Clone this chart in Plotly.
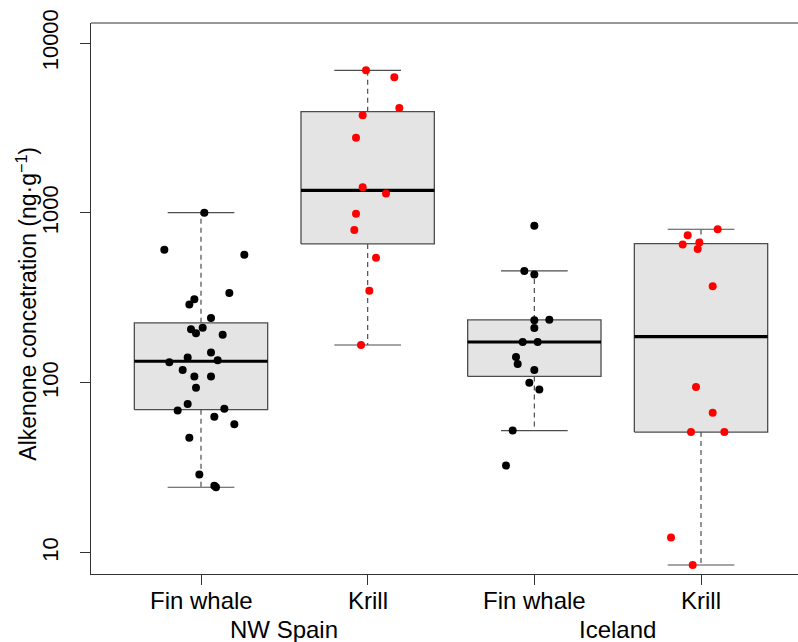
import numpy as np
import plotly.graph_objects as go

# Category labels along the x axis and the region under each pair
species = ["Fin whale", "Krill", "Fin whale", "Krill"]
regions = ["NW Spain", "Iceland"]

# Alkenone concentrations (ng/g) per sample
fin_spain = [1004, 608, 568, 338, 311, 289, 241, 207, 196, 211, 192, 151, 141, 132,
             136, 119, 109, 109, 93.5, 75.2, 68.7, 70.3, 63.1, 57.1, 47.5, 28.9, 24.8, 24.3]
krill_spain = [6908, 6285, 4150, 3755, 2775, 1416, 1300, 990, 795, 544, 349, 167]
fin_iceland = [842, 456, 434, 234, 235, 210, 174, 174, 142, 129, 119, 100, 91.4, 52.4, 32.6]
krill_iceland = [802, 739, 651, 669, 614, 370, 94.4, 66.6, 51.3, 51.3, 12.3, 8.47]

# Horizontal jitter of each sample (in category units)
fin_spain_jitter = [0.02, -0.22, 0.26, 0.17, -0.04, -0.07, 0.06, -0.06, -0.03, 0.01, 0.13, 0.06,
                    -0.08, -0.19, 0.10, -0.11, -0.04, 0.06, -0.03, -0.08, -0.14, 0.14, 0.08, 0.20,
                    -0.07, -0.01, 0.08, 0.09]
krill_spain_jitter = [-0.01, 0.16, 0.19, -0.03, -0.07, -0.03, 0.11, -0.07, -0.08, 0.05, 0.01, -0.04]
fin_iceland_jitter = [0.00, -0.06, 0.00, 0.00, 0.09, 0.00, -0.07, 0.02, -0.11, -0.10, 0.00, -0.03,
                      0.03, -0.13, -0.17]
krill_iceland_jitter = [0.10, -0.08, -0.11, -0.01, -0.02, 0.07, -0.03, 0.07, -0.06, 0.14, -0.18, -0.05]

series = [fin_spain, krill_spain, fin_iceland, krill_iceland]
jitters = [fin_spain_jitter, krill_spain_jitter, fin_iceland_jitter, krill_iceland_jitter]
point_colors = ["#000000", "#ff0000", "#000000", "#ff0000"]


def fivenum(x):
    x = np.sort(np.asarray(x, dtype=float))
    n = len(x)
    n4 = np.floor((n + 3) / 2) / 2
    d = np.array([1, n4, (n + 1) / 2, n + 1 - n4, n]) - 1
    return 0.5 * (x[np.floor(d).astype(int)] + x[np.ceil(d).astype(int)])


def box_stats(vals):
    """Tukey box statistics computed on log10 values."""
    lv = np.log10(np.asarray(vals, dtype=float))
    s = fivenum(lv)
    iqr = s[3] - s[1]
    lo = lv[lv >= s[1] - 1.5 * iqr].min()
    hi = lv[lv <= s[3] + 1.5 * iqr].max()
    return [10 ** v for v in (lo, s[1], s[2], s[3], hi)]


BOX_HALF = 0.4
CAP_HALF = 0.2
EDGE = "#4d4d4d"

fig = go.Figure()

for k, (vals, jit, col) in enumerate(zip(series, jitters, point_colors), start=1):
    lo, q1, med, q3, hi = box_stats(vals)
    # whiskers (dashed)
    fig.add_trace(go.Scatter(
        x=[k, k, None, k, k], y=[q3, hi, None, q1, lo], mode="lines",
        line=dict(color=EDGE, width=1.2, dash="5px,4px"), hoverinfo="skip"))
    # whisker caps
    fig.add_trace(go.Scatter(
        x=[k - CAP_HALF, k + CAP_HALF, None, k - CAP_HALF, k + CAP_HALF],
        y=[hi, hi, None, lo, lo], mode="lines",
        line=dict(color=EDGE, width=1.2), hoverinfo="skip"))
    # box
    fig.add_trace(go.Scatter(
        x=[k - BOX_HALF, k + BOX_HALF, k + BOX_HALF, k - BOX_HALF, k - BOX_HALF],
        y=[q1, q1, q3, q3, q1], mode="lines", fill="toself", fillcolor="#e4e4e4",
        line=dict(color=EDGE, width=1.3), hoverinfo="skip"))
    # median
    fig.add_trace(go.Scatter(
        x=[k - BOX_HALF, k + BOX_HALF], y=[med, med], mode="lines",
        line=dict(color="#000000", width=3.2), hoverinfo="skip"))
    # jittered samples
    fig.add_trace(go.Scatter(
        x=[k + j for j in jit], y=vals, mode="markers",
        marker=dict(color=col, size=8, line=dict(width=0))))

# top frame line
fig.add_shape(type="line", xref="paper", yref="paper", x0=0, x1=1, y0=1, y1=1,
              line=dict(color="#333333", width=1.2))

# species labels under the ticks
for k, name in enumerate(species, start=1):
    fig.add_annotation(x=k, y=-0.0475, xref="x", yref="paper", text=name,
                       showarrow=False, xanchor="center", yanchor="middle",
                       font=dict(size=24, color="#000000"))

# region labels centred under each pair
for i, name in enumerate(regions):
    fig.add_annotation(x=1.5 + 2 * i, y=-0.1, xref="x", yref="paper", text=name,
                       showarrow=False, xanchor="center", yanchor="middle",
                       font=dict(size=24, color="#000000"))

fig.add_annotation(x=-0.091, y=0.49, xref="paper", yref="paper",
                   text="Alkenone concetration (ng·g<sup>−1</sup>)", textangle=-90,
                   showarrow=False, xanchor="center", yanchor="middle",
                   font=dict(size=23, color="#000000"))

fig.update_layout(
    width=798, height=642,
    margin=dict(l=91, r=0, t=23, b=68),
    paper_bgcolor="white", plot_bgcolor="white",
    showlegend=False,
    font=dict(family="Liberation Sans, Arial, sans-serif", color="#000000"),
)
fig.update_xaxes(
    range=[0.34, 0.34 + 707 / 166.67], tickmode="array", tickvals=[1, 2, 3, 4],
    showticklabels=False,
    showgrid=False, zeroline=False, showline=True, linecolor="#333333", linewidth=1.2,
    ticks="outside", ticklen=10, tickcolor="#333333",
)
fig.update_yaxes(
    type="log", range=[np.log10(7.5), np.log10(13120)],
    tickmode="array", tickvals=[10, 100, 1000, 10000], ticktext=["10", "100", "1000", "10000"],
    tickangle=-90, showgrid=False, zeroline=False, showline=True, linecolor="#333333",
    linewidth=1.2, ticks="outside", ticklen=10, tickcolor="#333333", tickfont=dict(size=22),
    ticklabelstandoff=13,
)

fig.write_html("out.html")
